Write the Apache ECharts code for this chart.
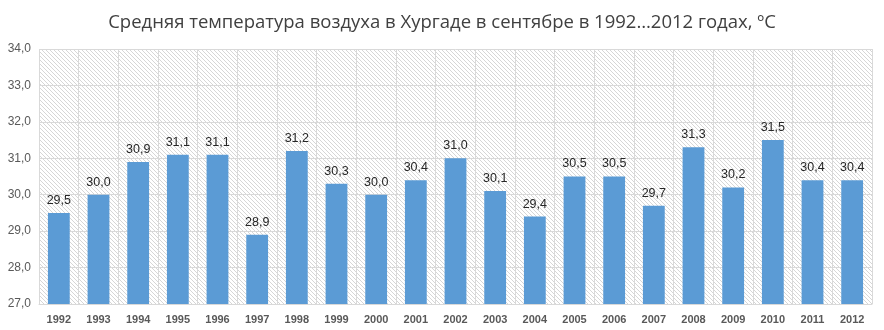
<!DOCTYPE html>
<html>
<head>
<meta charset="utf-8">
<script src="https://cdn.jsdelivr.net/npm/echarts@6/dist/echarts.min.js"></script>
<style>
  html, body { margin: 0; padding: 0; background: #fff; }
  #chart { width: 884px; height: 330px; }
</style>
</head>
<body>
<div id="chart"></div>
<script>
// Average September air temperature in Hurghada, 1992–2012
const years = ['1992','1993','1994','1995','1996','1997','1998','1999','2000','2001','2002',
               '2003','2004','2005','2006','2007','2008','2009','2010','2011','2012'];
const temps = [29.5, 30.0, 30.9, 31.1, 31.1, 28.9, 31.2, 30.3, 30.0, 30.4, 31.0,
               30.1, 29.4, 30.5, 30.5, 29.7, 31.3, 30.2, 31.5, 30.4, 30.4];
const titleText = 'Средняя температура воздуха в Хургаде в сентябре в 1992…2012 годах, ºС';

// Light diagonal hatch used as the plot background
function hatchPattern() {
  const c = document.createElement('canvas');
  c.width = 4; c.height = 4;
  const g = c.getContext('2d');
  g.fillStyle = '#ffffff';
  g.fillRect(0, 0, 4, 4);
  g.strokeStyle = '#d6d6d6';
  g.lineWidth = 1;
  g.beginPath();
  g.moveTo(-1, -1); g.lineTo(5, 5);
  g.moveTo(-1, 3); g.lineTo(1, 5);
  g.moveTo(3, -1); g.lineTo(5, 1);
  g.stroke();
  return c;
}

const fmt = v => v.toFixed(1).replace('.', ',');

const chart = echarts.init(document.getElementById('chart'), null, { renderer: 'canvas' });
chart.setOption({
  animation: false,
  backgroundColor: '#ffffff',
  title: {
    text: titleText,
    left: 'center',
    top: 8,
    textStyle: { fontFamily: 'Open Sans', fontSize: 18.5, fontWeight: 'normal', color: '#404040' }
  },
  grid: {
    left: 39, right: 12, top: 49, bottom: 26,
    show: true,
    borderWidth: 0,
    backgroundColor: { image: hatchPattern(), repeat: 'repeat' }
  },
  xAxis: {
    type: 'category',
    data: years,
    boundaryGap: true,
    axisLine: { show: true, lineStyle: { color: '#d9d9d9', width: 1 } },
    axisTick: { show: false },
    splitLine: { show: true, interval: 0, lineStyle: { color: '#d9d9d9', width: 1 } },
    axisLabel: {
      interval: 0, margin: 10,
      fontFamily: 'Liberation Sans', fontSize: 11, fontWeight: 'bold', color: '#595959'
    }
  },
  yAxis: {
    type: 'value',
    min: 27, max: 34, interval: 1,
    axisLine: { show: false },
    axisTick: { show: false },
    splitLine: { show: true, lineStyle: { color: '#d9d9d9', width: 1 } },
    axisLabel: {
      margin: 8,
      formatter: v => fmt(v),
      fontFamily: 'Liberation Sans', fontSize: 12, color: '#595959'
    }
  },
  series: [{
    type: 'bar',
    data: temps,
    barWidth: '55%',
    itemStyle: { color: '#5b9bd5' },
    label: {
      show: true,
      position: 'top',
      distance: 6,
      formatter: p => fmt(p.value),
      fontFamily: 'Liberation Sans', fontSize: 12.5, color: '#262626'
    }
  }]
});
</script>
</body>
</html>
